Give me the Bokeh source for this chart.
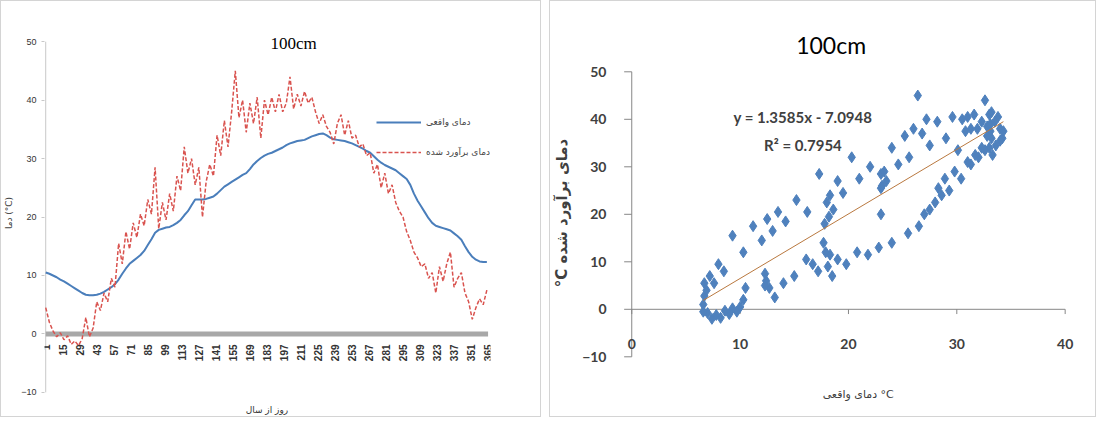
import math

from bokeh.plotting import figure
from bokeh.layouts import row
from bokeh.models import Range1d, FixedTicker, Legend, LegendItem, Label
from bokeh.core.properties import value
from bokeh.embed import file_html
from bokeh.resources import INLINE

# روز از سال (every 3rd day)
days = list(range(1, 366, 3))

# دمای واقعی
actual = [
    10.5, 10.3, 10.0, 9.7, 9.3, 9.0, 8.6, 8.2, 7.8, 7.4,
    7.0, 6.7, 6.6, 6.6, 6.7, 6.9, 7.2, 7.6, 8.0, 8.5,
    9.3, 10.3, 11.2, 12.0, 12.5, 13.0, 13.5, 14.2, 15.2, 16.2,
    17.3, 17.8, 18.0, 18.2, 18.3, 18.6, 19.0, 19.5, 20.3, 21.0,
    22.0, 23.0, 23.0, 23.0, 23.1, 23.3, 23.5, 24.0, 24.6, 25.2,
    25.6, 26.0, 26.4, 26.8, 27.2, 27.5, 28.2, 29.0, 29.6, 30.1,
    30.5, 30.8, 31.0, 31.3, 31.6, 31.9, 32.3, 32.6, 32.8, 33.0,
    33.1, 33.2, 33.5, 33.8, 34.0, 34.2, 34.3, 34.0, 33.6, 33.3,
    33.2, 33.1, 33.0, 32.8, 32.6, 32.3, 32.0, 31.7, 31.3, 31.0,
    30.4, 29.8, 29.3, 28.9, 28.6, 28.3, 28.0, 27.5, 27.0, 26.5,
    25.5, 24.0, 22.8, 21.8, 20.8, 19.8, 19.0, 18.5, 18.3, 18.1,
    17.9, 17.7, 17.2, 16.7, 16.1, 15.0, 14.0, 13.2, 12.7, 12.4,
    12.3, 12.3,
]

# دمای برآورد شده
estimated = [
    4.5, 2.0, 0.5, -0.5, 0.2, -1.0, -0.3, -1.8, -1.2, -2.0,
    -0.8, 2.8, -0.5, 1.0, 5.5, 4.0, 7.0, 5.5, 9.5, 8.0,
    15.5, 12.0, 17.5, 14.5, 19.0, 16.5, 20.5, 18.5, 23.0, 20.5,
    28.5, 18.0, 22.5, 19.5, 24.0, 21.0, 27.0, 24.5, 32.0, 27.5,
    30.0, 25.5, 28.5, 20.0, 26.0, 29.0, 27.0, 34.0, 30.5, 36.5,
    32.0, 38.0, 45.0, 37.0, 40.0, 34.5, 39.5, 36.0, 40.5, 33.5,
    40.0, 37.5, 40.5, 38.0, 41.0, 38.0, 39.5, 44.0, 38.5, 41.0,
    39.0, 41.5, 39.5, 40.5, 38.0, 36.0, 37.5, 35.5, 34.5, 32.5,
    36.0, 37.5, 34.0, 36.5, 33.5, 34.0, 32.0, 32.5, 30.5, 31.0,
    27.5, 29.0, 25.0, 27.5, 24.0, 25.5, 22.5, 21.0, 20.0, 17.5,
    16.0, 14.0, 13.0, 11.5, 12.0, 9.5, 10.5, 7.0, 11.5, 9.0,
    12.0, 14.0, 8.0, 9.5, 10.5, 7.0, 5.5, 2.5, 4.5, 6.0,
    5.0, 7.5,
]

tick_days = list(range(1, 366, 14))
left_y_ticks = [-10, 0, 10, 20, 30, 40, 50]
right_x_ticks = [0, 10, 20, 30, 40]
right_y_ticks = [-10, 0, 10, 20, 30, 40, 50]

slope = 1.3585
intercept = -7.0948
r2 = 0.7954

FA = "DejaVu Sans"

# ---------------- left: time series ----------------
p1 = figure(title=None, frame_width=444, frame_height=409,
            min_border_left=41, min_border_right=52,
            min_border_top=6, min_border_bottom=0,
            x_range=Range1d(0, 367), y_range=Range1d(-14.47, 55.85),
            output_backend="svg", toolbar_location=None)
p1.outline_line_color = None
p1.grid.visible = False
p1.xaxis.visible = False
p1.styles = {"border": "1px solid #d4d4d4"}

p1.yaxis.ticker = FixedTicker(ticks=left_y_ticks)
p1.yaxis.minor_tick_line_color = None
p1.yaxis.major_tick_in = 0
p1.yaxis.major_tick_out = 3
p1.yaxis.axis_line_color = None
p1.yaxis.major_tick_line_color = "#c8c8c8"
p1.yaxis.major_label_text_font = "Liberation Sans"
p1.yaxis.major_label_text_font_size = "9px"
p1.yaxis.major_label_text_color = "#333333"
p1.yaxis.axis_label = "دما (°C)"
p1.yaxis.axis_label_text_font = FA
p1.yaxis.axis_label_text_font_size = "9px"
p1.yaxis.axis_label_text_font_style = "normal"
p1.yaxis.axis_label_standoff = 4

# axis line of the value axis, from lowest to highest tick
p1.line([tick_days[0], tick_days[0]], [left_y_ticks[0], left_y_ticks[-1]],
        line_color="#c8c8c8", line_width=1)
# thick grey zero line
p1.line([tick_days[0], tick_days[-1]], [0, 0], line_color="#a8a8a8", line_width=5)

r_act = p1.line(days, actual, line_color="#4a7ebb", line_width=2)
r_est = p1.line(days, estimated, line_color="#d9534f", line_width=1.5, line_dash="4 2")

p1.text(x=tick_days, y=[-1.8] * len(tick_days), text=[str(d) for d in tick_days],
        angle=math.pi / 2, text_align="right", text_baseline="middle",
        text_font=value("Liberation Sans"), text_font_size="10px",
        text_font_style="bold", text_color="#333333")

legend = Legend(items=[LegendItem(label="دمای واقعی", renderers=[r_act]),
                       LegendItem(label="دمای برآورد شده", renderers=[r_est])],
                location=(332, 258), background_fill_alpha=0, border_line_color=None,
                label_text_font=FA, label_text_font_size="9px",
                glyph_width=45, glyph_height=16, spacing=14, padding=4)
p1.add_layout(legend)

p1.add_layout(Label(x=205, y=49.7, text="100cm", text_align="center",
                    text_baseline="middle", text_font="Liberation Serif",
                    text_font_size="17px", text_color="#000000"))
p1.add_layout(Label(x=183, y=-13.0, text="روز از سال", text_align="center",
                    text_baseline="middle", text_font=FA,
                    text_font_size="9px", text_color="#333333"))

# ---------------- right: scatter ----------------
p2 = figure(title=None, frame_width=478, frame_height=409,
            min_border_left=59, min_border_right=2,
            min_border_top=6, min_border_bottom=0,
            x_range=Range1d(-1.5, 42.8), y_range=Range1d(-22.99, 63.54),
            output_backend="svg", toolbar_location=None)
p2.outline_line_color = None
p2.grid.visible = False
p2.xaxis.visible = False
p2.styles = {"border": "1px solid #d4d4d4"}

p2.yaxis.ticker = FixedTicker(ticks=right_y_ticks)
p2.yaxis.minor_tick_line_color = None
p2.yaxis.major_tick_line_color = None
p2.yaxis.axis_line_color = None
p2.yaxis.major_label_text_font = "Lato"
p2.yaxis.major_label_text_font_size = "14px"
p2.yaxis.major_label_text_font_style = "bold"
p2.yaxis.major_label_text_color = "#404040"
p2.yaxis.major_label_standoff = 3
p2.yaxis.axis_label = "°C دمای برآورد شده"
p2.yaxis.axis_label_text_font = FA
p2.yaxis.axis_label_text_font_size = "15px"
p2.yaxis.axis_label_text_font_style = "bold"
p2.yaxis.axis_label_text_color = "#404040"
p2.yaxis.axis_label_standoff = 8

# axes drawn where Excel put them: value axis at x=0, category line at y=0
p2.line([0, 0], [right_y_ticks[0], right_y_ticks[-1]], line_color="#868686", line_width=1)
p2.segment(x0=[-0.7] * len(right_y_ticks), y0=right_y_ticks,
           x1=[0] * len(right_y_ticks), y1=right_y_ticks, line_color="#868686")
p2.line([right_x_ticks[0], right_x_ticks[-1]], [0, 0], line_color="#868686", line_width=1)
p2.segment(x0=right_x_ticks, y0=[0] * len(right_x_ticks),
           x1=right_x_ticks, y1=[-1] * len(right_x_ticks), line_color="#868686")
p2.text(x=right_x_ticks, y=[-7.3] * len(right_x_ticks), text=[str(t) for t in right_x_ticks],
        text_align="center", text_baseline="middle", text_font=value("Lato"),
        text_font_size="14px", text_font_style="bold", text_color="#404040")

p2.scatter(actual, estimated, marker="diamond", size=11,
           fill_color="#4f81bd", line_color="#4f81bd")

trend_x = [min(actual), max(actual)]
trend_y = [slope * x + intercept for x in trend_x]
p2.line(trend_x, trend_y, line_color="#b9783f", line_width=1)

p2.text(x=[15.8, 15.8], y=[40.5, 34.6],
        text=[f"y = {slope}x - {abs(intercept)}", f"R² = {r2}"],
        text_align="center", text_baseline="middle", text_font=value("Lato"),
        text_font_size="15px", text_font_style="bold", text_color="#404040")

p2.add_layout(Label(x=18.4, y=55.7, text="100cm", text_align="center",
                    text_baseline="middle", text_font="Lato",
                    text_font_size="23px", text_color="#000000"))
p2.add_layout(Label(x=20.9, y=-17.9, text="دمای واقعی °C", text_align="center",
                    text_baseline="middle", text_font=FA,
                    text_font_size="11px", text_color="#404040"))

layout = row(p1, p2, spacing=8)
open("out.html", "w").write(file_html(layout, INLINE))
